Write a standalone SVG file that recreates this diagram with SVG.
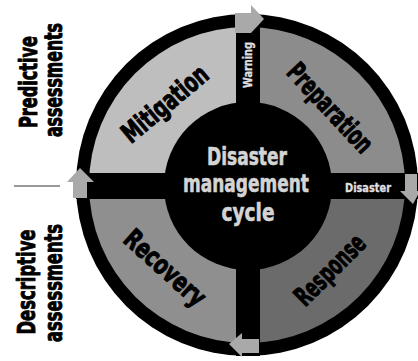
<svg xmlns="http://www.w3.org/2000/svg" width="418" height="361" viewBox="0 0 418 361">
<style>
.lbl{font-family:"Liberation Sans Narrow","DejaVu Sans Condensed","Liberation Sans",sans-serif;font-weight:bold;text-anchor:middle;stroke-linejoin:round}
.side{font-size:24px;fill:#000;stroke:#000;stroke-width:0.9px}
.quad{font-size:27px;fill:#000;stroke:#000;stroke-width:1px}
.ctr{font-size:25px;fill:#d4d4d4;stroke:#d4d4d4;stroke-width:0.6px}
.band{font-size:13px;fill:#e0e0e0;stroke:#e0e0e0;stroke-width:0.3px}
.arrow{fill:#a9a9a9}
</style>
<defs>
<clipPath id="disk"><circle cx="247" cy="185" r="158"/></clipPath>
</defs>
<rect width="418" height="361" fill="#fff"/>
<g id="side-labels">
<text class="lbl side" transform="translate(37,82) rotate(-90)" textLength="92" lengthAdjust="spacingAndGlyphs">Predictive</text>
<text class="lbl side" transform="translate(62,80) rotate(-90)" textLength="114" lengthAdjust="spacingAndGlyphs">assessments</text>
<line x1="14" y1="186" x2="60" y2="186" stroke="#333" stroke-width="1"/>
<text class="lbl side" transform="translate(35,282) rotate(-90)" textLength="105" lengthAdjust="spacingAndGlyphs">Descriptive</text>
<text class="lbl side" transform="translate(62,283) rotate(-90)" textLength="118" lengthAdjust="spacingAndGlyphs">assessments</text>
</g>
<g id="ring">
<circle cx="247" cy="185" r="171" fill="#000"/>
</g>
<g id="mitigation">
<rect x="76" y="14" width="172" height="172" fill="#bebebe" clip-path="url(#disk)"/>
<text class="lbl quad" transform="translate(165,104) rotate(-40)" dy="9" textLength="104" lengthAdjust="spacingAndGlyphs">Mitigation</text>
</g>
<g id="preparation">
<rect x="248" y="14" width="172" height="172" fill="#8c8c8c" clip-path="url(#disk)"/>
<text class="lbl quad" transform="translate(330,108) rotate(47)" dy="9" textLength="112" lengthAdjust="spacingAndGlyphs">Preparation</text>
</g>
<g id="response">
<rect x="248" y="186" width="172" height="172" fill="#6b6b6b" clip-path="url(#disk)"/>
<text class="lbl quad" transform="translate(330,270) rotate(-45)" dy="9" textLength="88" lengthAdjust="spacingAndGlyphs">Response</text>
</g>
<g id="recovery">
<rect x="76" y="186" width="172" height="172" fill="#8f8f8f" clip-path="url(#disk)"/>
<text class="lbl quad" transform="translate(165,268) rotate(42)" dy="9" textLength="100" lengthAdjust="spacingAndGlyphs">Recovery</text>
</g>
<g id="connectors">
<rect x="236" y="14" width="24" height="342" fill="#000"/>
<rect x="76" y="173" width="342" height="26" fill="#000"/>
<polygon class="arrow" points="235,13 251,13 251,5 264,19 251,33 235,33"/>
<polygon class="arrow" points="73,198 73,182 67,182 80,168 94,182 87,182 87,198"/>
<polygon class="arrow" points="405,174 417,174 417,191 420,191 413,204 400,191 405,191"/>
<polygon class="arrow" points="259,339 259,353 242,353 242,357 229,344 242,333 242,339"/>
</g>
<g id="warning">
<text class="lbl band" transform="translate(252,65) rotate(-90)" textLength="46" lengthAdjust="spacingAndGlyphs">Warning</text>
</g>
<g id="disaster">
<text class="lbl band" x="368" y="192" textLength="46" lengthAdjust="spacingAndGlyphs">Disaster</text>
</g>
<g id="center">
<circle cx="248" cy="186" r="84" fill="#000"/>
<text class="lbl ctr" x="247" y="165" textLength="80" lengthAdjust="spacingAndGlyphs">Disaster</text>
<text class="lbl ctr" x="246" y="192" textLength="126" lengthAdjust="spacingAndGlyphs">management</text>
<text class="lbl ctr" x="248" y="221" textLength="53" lengthAdjust="spacingAndGlyphs">cycle</text>
</g>
</svg>
